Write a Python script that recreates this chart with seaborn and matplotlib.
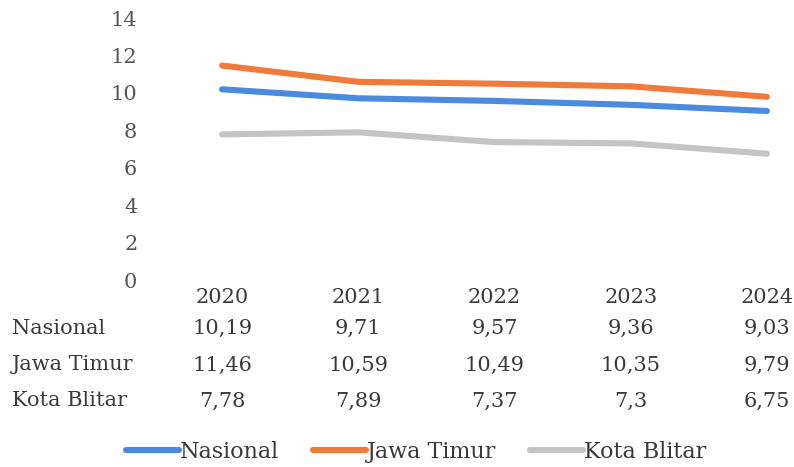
import matplotlib
matplotlib.use("Agg")
import matplotlib.pyplot as plt
import matplotlib.transforms as mtransforms
from matplotlib.lines import Line2D
import seaborn as sns
import pandas as pd

years = ["2020", "2021", "2022", "2023", "2024"]
series_names = ["Nasional", "Jawa Timur", "Kota Blitar"]
nasional = [10.19, 9.71, 9.57, 9.36, 9.03]
jawa_timur = [11.46, 10.59, 10.49, 10.35, 9.79]
kota_blitar = [7.78, 7.89, 7.37, 7.3, 6.75]
table_text = {
    "Nasional": ["10,19", "9,71", "9,57", "9,36", "9,03"],
    "Jawa Timur": ["11,46", "10,59", "10,49", "10,35", "9,79"],
    "Kota Blitar": ["7,78", "7,89", "7,37", "7,3", "6,75"],
}
colors = ["#4a8be0", "#f07a3a", "#c4c4c4"]

sns.set_theme(style="white")
plt.rcParams["font.family"] = ["DejaVu Serif"]
TXT = "#3a3a3a"
FS = 15

rows = []
for name, vals in zip(series_names, [nasional, jawa_timur, kota_blitar]):
    for i, v in enumerate(vals):
        rows.append({"x": i, "value": v, "series": name})
df = pd.DataFrame(rows)

W, H = 794, 467
fig = plt.figure(figsize=(W / 100, H / 100), dpi=100)
left, right, top, bottom = 154, 835, 18, 280
ax = fig.add_axes([left / W, 1 - bottom / H, (right - left) / W, (bottom - top) / H])

sns.lineplot(data=df, x="x", y="value", hue="series", palette=colors,
             hue_order=series_names, linewidth=4.4, ax=ax, legend=False)
for l in ax.lines:
    l.set_solid_capstyle("round")

ax.set_xlim(-0.5, 4.5)
ax.set_ylim(0, 14)
ax.set_yticks(range(0, 15, 2))
ax.set_yticklabels([str(v) for v in range(0, 15, 2)], fontsize=FS, color="#555555")
ax.tick_params(axis="y", length=0, pad=12)
ax.set_xticks(range(5))
ax.set_xticklabels(years, fontsize=FS, color=TXT)
ax.tick_params(axis="x", length=0, pad=6)
ax.set_xlabel("")
ax.set_ylabel("")
for s in ax.spines.values():
    s.set_visible(False)
ax.grid(False)

# data table
trans = mtransforms.blended_transform_factory(ax.transData, fig.transFigure)
row_y = [328, 365, 401]
for name, yp in zip(series_names, row_y):
    fig.text(12 / W, 1 - yp / H, name, fontsize=FS, color=TXT, ha="left", va="center")
    for i, t in enumerate(table_text[name]):
        ax.text(i, 1 - yp / H, t, transform=trans, fontsize=FS, color=TXT,
                ha="center", va="center", clip_on=False)

handles = [Line2D([0], [0], color=c, lw=4.4, solid_capstyle="round") for c in colors]
fig.legend(handles, series_names, loc="center", bbox_to_anchor=(416 / W, 1 - 452 / H),
           ncol=3, frameon=False, fontsize=16, handlelength=2.4, handletextpad=0.05,
           columnspacing=1.5, labelcolor=TXT)

fig.savefig("out.png", dpi=100)
